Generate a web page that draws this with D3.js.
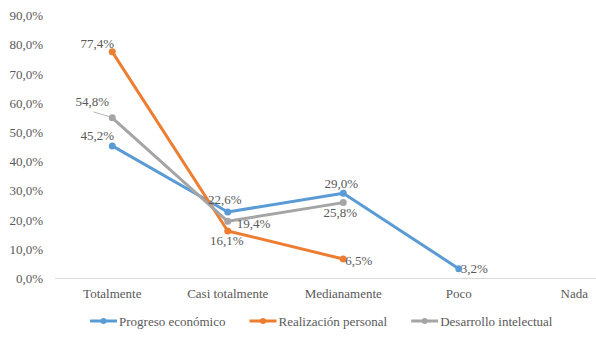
<!DOCTYPE html>
<html>
<head>
<meta charset="utf-8">
<script src="https://cdn.jsdelivr.net/npm/d3@7"></script>
</head>
<body style="margin:0;padding:0;background:#ffffff">
<svg id="chart" width="596" height="340" style="display:block"></svg>
<script>
// ---- data ----
const categories = ["Totalmente", "Casi totalmente", "Medianamente", "Poco", "Nada"];
const seriesNames = ["Progreso económico", "Realización personal", "Desarrollo intelectual"];
const progresoEconomico = [45.2, 22.6, 29.0, 3.2, null];
const realizacionPersonal = [77.4, 16.1, 6.5, null, null];
const desarrolloIntelectual = [54.8, 19.4, 25.8, null, null];
const yTicks = [0, 10, 20, 30, 40, 50, 60, 70, 80, 90];

// ---- styling / layout (not data) ----
const colors = ["#5B9BD5", "#ED7D31", "#A5A5A5"];
const FONT = "Liberation Serif";
const TEXT_COLOR = "#595959";
// label placement per series per category: [dx, dy, anchor]
const labelLayout = [
  [[-15, -10, "middle"], [-3, -13, "middle"], [-2, -10, "middle"], [2, 0, "start"], null],
  [[-15, -8, "middle"], [-1, 9, "middle"], [2, 1, "start"], null, null],
  [[-20, -16, "middle"], [9, 2, "start"], [-3, 10, "middle"], null, null]
];

const svg = d3.select("#chart");
const x = d3.scaleBand().domain(categories).range([54.5, 632]);
const xc = c => x(c) + x.bandwidth() / 2;
const y = d3.scaleLinear().domain([0, 90]).range([278, 15]);
const fmt = v => d3.format(".1f")(v).replace(".", ",") + "%";

// y axis labels (no axis line)
const yAxis = d3.axisLeft(y).tickValues(yTicks).tickFormat(fmt).tickSize(0).tickPadding(0);
const gy = svg.append("g").attr("transform", "translate(43,0)").call(yAxis);
gy.attr("font-family", FONT).attr("font-size", 13);
gy.select(".domain").remove();
gy.selectAll("text").attr("dy", "0.35em");

// x axis
const xAxis = d3.axisBottom(x).tickSize(0).tickPadding(11);
const gx = svg.append("g").attr("transform", "translate(0,278)").call(xAxis);
gx.attr("font-family", FONT).attr("font-size", 13);
gx.select(".domain").attr("stroke", "#D9D9D9").attr("stroke-width", 1);

const allSeries = [progresoEconomico, realizacionPersonal, desarrolloIntelectual];
const line = d3.line()
  .defined(d => d.v !== null)
  .x(d => xc(d.c))
  .y(d => y(d.v));

allSeries.forEach((vals, si) => {
  const pts = vals.map((v, i) => ({ c: categories[i], v: v, i: i }));
  svg.append("path")
    .datum(pts)
    .attr("fill", "none")
    .attr("stroke", colors[si])
    .attr("stroke-width", 3)
    .attr("stroke-linejoin", "round")
    .attr("stroke-linecap", "round")
    .attr("d", line);
});

// leader line for Desarrollo intelectual / Totalmente label
svg.append("line")
  .attr("x1", xc(categories[0]) - 19).attr("y1", y(desarrolloIntelectual[0]) - 6)
  .attr("x2", xc(categories[0]) - 2).attr("y2", y(desarrolloIntelectual[0]) - 1)
  .attr("stroke", "#A5A5A5").attr("stroke-width", 0.8);

allSeries.forEach((vals, si) => {
  const pts = vals.map((v, i) => ({ c: categories[i], v: v, i: i })).filter(d => d.v !== null);
  svg.append("g").selectAll("circle").data(pts).join("circle")
    .attr("cx", d => xc(d.c)).attr("cy", d => y(d.v)).attr("r", 3.5)
    .attr("fill", colors[si]);
});

allSeries.forEach((vals, si) => {
  const pts = vals.map((v, i) => ({ c: categories[i], v: v, i: i })).filter(d => d.v !== null);
  svg.append("g").selectAll("text").data(pts).join("text")
    .attr("x", d => xc(d.c) + labelLayout[si][d.i][0])
    .attr("y", d => y(d.v) + labelLayout[si][d.i][1])
    .attr("dy", "0.35em")
    .attr("text-anchor", d => labelLayout[si][d.i][2])
    .text(d => fmt(d.v));
});

// legend
const legend = svg.append("g").attr("transform", "translate(90,321)");
let lx = 0;
seriesNames.forEach((name, si) => {
  const g = legend.append("g").attr("transform", `translate(${lx},0)`);
  g.append("line").attr("x1", 0).attr("x2", 27).attr("y1", 0).attr("y2", 0)
    .attr("stroke", colors[si]).attr("stroke-width", 3);
  g.append("circle").attr("cx", 13.5).attr("cy", 0).attr("r", 3).attr("fill", colors[si]);
  const t = g.append("text").attr("x", 29).attr("y", 0).attr("dy", "0.35em").text(name)
    .attr("font-family", FONT).attr("font-size", 13);
  lx += 29 + t.node().getComputedTextLength() + 24;
});

// apply text style to every text element
svg.selectAll("text")
  .attr("font-family", FONT)
  .attr("font-size", 13)
  .attr("fill", TEXT_COLOR);
</script>
</body>
</html>
